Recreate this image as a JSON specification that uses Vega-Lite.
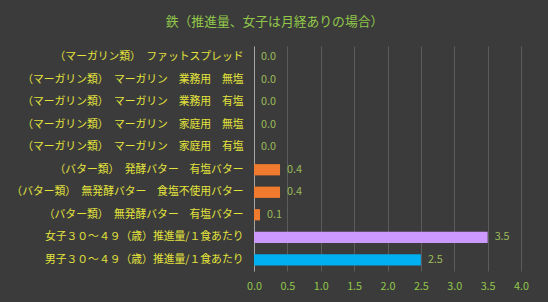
{
  "$schema": "https://vega.github.io/schema/vega-lite/v6.json",
  "width": 267,
  "height": 225,
  "autosize": {"type": "none"},
  "padding": {"left": 254, "top": 46, "right": 27, "bottom": 31},
  "background": "#3b3b3b",
  "title": {
    "text": "鉄（推進量、女子は月経ありの場合）",
    "color": "#92c84a",
    "font": "Noto Sans CJK JP",
    "fontSize": 12.8,
    "fontWeight": "normal",
    "anchor": "middle",
    "dx": -113,
    "offset": 17
  },
  "data": {
    "values": [
      {"label": "（マーガリン類）　ファットスプレッド", "value": 0.0, "text": "0.0", "group": "m"},
      {"label": "（マーガリン類）　マーガリン　業務用　無塩", "value": 0.0, "text": "0.0", "group": "m"},
      {"label": "（マーガリン類）　マーガリン　業務用　有塩", "value": 0.0, "text": "0.0", "group": "m"},
      {"label": "（マーガリン類）　マーガリン　家庭用　無塩", "value": 0.0, "text": "0.0", "group": "m"},
      {"label": "（マーガリン類）　マーガリン　家庭用　有塩", "value": 0.0, "text": "0.0", "group": "m"},
      {"label": "（バター類）　発酵バター　有塩バター", "value": 0.39, "text": "0.4", "group": "b"},
      {"label": "（バター類）　無発酵バター　食塩不使用バター", "value": 0.39, "text": "0.4", "group": "b"},
      {"label": "（バター類）　無発酵バター　有塩バター", "value": 0.09, "text": "0.1", "group": "b"},
      {"label": "女子３０～４９（歳）推進量/１食あたり", "value": 3.5, "text": "3.5", "group": "f"},
      {"label": "男子３０～４９（歳）推進量/１食あたり", "value": 2.5, "text": "2.5", "group": "male"}
    ]
  },
  "encoding": {
    "y": {
      "field": "label",
      "type": "nominal",
      "sort": null,
      "scale": {"paddingInner": 0.5, "paddingOuter": 0.25},
      "axis": {
        "title": null,
        "ticks": false,
        "domain": true,
        "domainColor": "#a6a6a6",
        "labelColor": "#e3e33c",
        "labelFont": "Noto Sans CJK JP",
        "labelFontSize": 10.8,
        "labelPadding": 11,
        "labelLimit": 300
      }
    },
    "x": {
      "field": "value",
      "type": "quantitative",
      "scale": {"domain": [0, 4]},
      "axis": {
        "title": null,
        "values": [0, 0.5, 1, 1.5, 2, 2.5, 3, 3.5, 4],
        "format": ".1f",
        "ticks": false,
        "domain": false,
        "labelFlush": false,
        "gridColor": "#5c5c5c",
        "labelColor": "#92c84a",
        "labelFont": "Noto Sans CJK JP",
        "labelFontSize": 10.8,
        "labelPadding": 9
      }
    }
  },
  "layer": [
    {
      "mark": {"type": "bar"},
      "encoding": {
        "color": {
          "field": "group",
          "type": "nominal",
          "scale": {"domain": ["m", "b", "f", "male"], "range": ["#f07a2e", "#f07a2e", "#cc99ff", "#00b0f0"]},
          "legend": null
        }
      }
    },
    {
      "mark": {"type": "text", "align": "left", "dx": 7, "color": "#9bbb59", "font": "Noto Sans CJK JP", "fontSize": 10.8},
      "encoding": {"text": {"field": "text"}}
    }
  ],
  "config": {"view": {"stroke": null}}
}
